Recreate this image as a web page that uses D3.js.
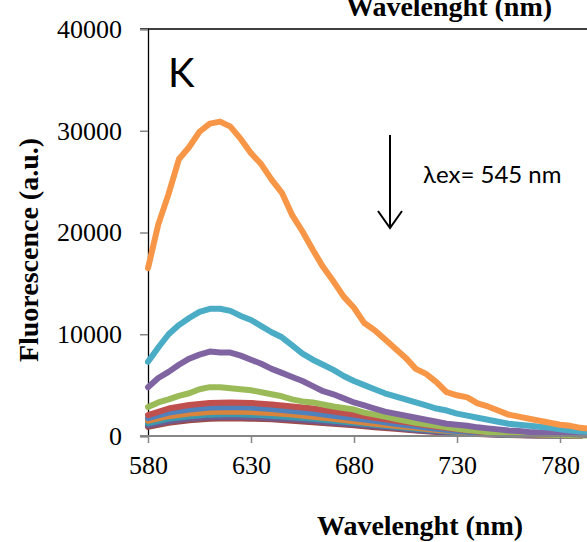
<!DOCTYPE html>
<html>
<head>
<meta charset="utf-8">
<script src="https://d3js.org/d3.v7.min.js"></script>
<style>
    body { margin: 0; background: #ffffff; }
    #chart .serif { font-family: "Liberation Serif", "Times New Roman", serif; fill: #000000; }
    #chart .sans { font-family: Lato, "Open Sans", sans-serif; fill: #000000; }
    #chart .tick-label { font-size: 26px; }
    #chart .axis-title { font-size: 28px; font-weight: bold; }
    #chart .series { fill: none; stroke-width: 6; stroke-linejoin: round; stroke-linecap: round; }
</style>
</head>
<body>
<script>
// wavelength grids (nm)
const WL_FINE = d3.range(580, 796, 5);
const WL_COARSE = d3.range(580, 791, 10);

// main spectra, read at 5 nm steps
const ORANGE = [16500, 20800, 23800, 27200, 28400, 29900, 30700, 30900, 30400, 29200,
    27800, 26700, 25200, 23900, 21700, 20100, 18300, 16600, 15200, 13700,
    12600, 11100, 10400, 9500, 8600, 7700, 6600, 6100, 5300, 4300,
    4000, 3800, 3200, 2900, 2500, 2100, 1900, 1700, 1500, 1300,
    1100, 1000, 800, 700];
const AQUA = [7300, 8700, 10000, 10900, 11600, 12200, 12500, 12500, 12300, 11800,
    11400, 10800, 10200, 9700, 8900, 8100, 7500, 7000, 6500, 5900,
    5400, 5000, 4600, 4200, 3900, 3600, 3300, 3000, 2700, 2500,
    2200, 2000, 1800, 1600, 1400, 1200, 1100, 1000, 900, 800,
    650, 550, 450, 400];
const PURPLE = [4800, 5700, 6300, 7000, 7600, 8000, 8300, 8200, 8200, 7900,
    7500, 7100, 6600, 6200, 5800, 5400, 4900, 4400, 4100, 3700,
    3300, 3000, 2700, 2400, 2200, 2000, 1800, 1600, 1400, 1200,
    1100, 1000, 850, 750, 650, 550, 500, 400, 350, 300,
    250, 200, 150, 100];
const GREEN = [2850, 3300, 3600, 3950, 4200, 4600, 4800, 4800, 4700, 4600,
    4500, 4300, 4100, 3900, 3600, 3400, 3300, 3100, 2900, 2750,
    2600, 2300, 2100, 1900, 1700, 1500, 1300, 1150, 1000, 850,
    700, 600, 500, 400, 350, 300, 250, 200, 150, 120,
    100, 80, 60, 50];

// lower spectra, read at 10 nm steps
const RED = [2050, 2700, 3050, 3250, 3300, 3250, 3100, 2900, 2700, 2400, 2100,
    1800, 1500, 1200, 900, 650, 450, 300, 200, 120, 80, 50];
const BLUE = [1750, 2300, 2600, 2800, 2850, 2800, 2650, 2450, 2250, 2000, 1750,
    1500, 1200, 950, 700, 500, 350, 250, 150, 100, 60, 40];
const ORANGE2 = [1500, 1950, 2200, 2350, 2400, 2350, 2250, 2100, 1900, 1700, 1450,
    1200, 1000, 800, 600, 450, 300, 200, 130, 80, 50, 30];
const TEAL2 = [1250, 1700, 1950, 2100, 2150, 2100, 2000, 1850, 1700, 1500, 1300,
    1100, 900, 700, 550, 400, 280, 180, 110, 70, 40, 20];
const PURPLE2 = [1050, 1450, 1700, 1850, 1900, 1850, 1750, 1650, 1500, 1300, 1150,
    950, 800, 600, 450, 330, 230, 150, 90, 50, 30, 20];
const DARKRED = [900, 1300, 1550, 1700, 1750, 1700, 1650, 1500, 1350, 1200, 1050,
    850, 700, 550, 400, 300, 200, 130, 80, 50, 30, 10];

const X_TICKS = [580, 630, 680, 730, 780];
const Y_TICKS = [0, 10000, 20000, 30000, 40000];

// drawn from the smallest up, so the big spectra sit on top
const SERIES = [
    { wl: WL_COARSE, v: DARKRED, color: "#9e4a47" },
    { wl: WL_COARSE, v: PURPLE2, color: "#6f5a8f" },
    { wl: WL_COARSE, v: TEAL2, color: "#3b98ae" },
    { wl: WL_COARSE, v: ORANGE2, color: "#d9843c" },
    { wl: WL_COARSE, v: BLUE, color: "#4f81bd" },
    { wl: WL_COARSE, v: RED, color: "#c0504d" },
    { wl: WL_FINE, v: GREEN, color: "#9bbb59" },
    { wl: WL_FINE, v: PURPLE, color: "#8064a2" },
    { wl: WL_FINE, v: AQUA, color: "#4bacc6" },
    { wl: WL_FINE, v: ORANGE, color: "#f79646" }
];

const SVG_WIDTH = 587;
const SVG_HEIGHT = 542;

var svg = d3.select("body").append("svg")
    .attr("id", "chart")
    .attr("width", SVG_WIDTH)
    .attr("height", SVG_HEIGHT);

var x = d3.scaleLinear().domain([580, 780]).range([148, 560]);
var y = d3.scaleLinear().domain([0, 40000]).range([436, 29]);

// top title, cut by the frame like in the original
svg.append("text")
    .attr("class", "serif axis-title")
    .attr("x", 449)
    .attr("y", 16)
    .attr("text-anchor", "middle")
    .text("Wavelenght (nm)");

// top border
svg.append("line")
    .attr("x1", 140).attr("x2", SVG_WIDTH)
    .attr("y1", y(40000)).attr("y2", y(40000))
    .attr("stroke", "#000").attr("stroke-width", 1.3);

// y axis
var yAxis = svg.append("g")
    .attr("transform", "translate(" + x(580) + ",0)")
    .call(d3.axisLeft(y).tickValues(Y_TICKS).tickSize(8).tickFormat(d3.format("d")));
yAxis.attr("font-size", null).attr("font-family", null);
yAxis.select(".domain").attr("stroke", "#000").attr("stroke-width", 1.3);
yAxis.selectAll(".tick line").attr("stroke", "#868686").attr("stroke-width", 1.5);
yAxis.selectAll(".tick text")
    .attr("class", "serif tick-label")
    .attr("x", -26);

var line = d3.line().x(function(d) { return x(d[0]); }).y(function(d) { return y(d[1]); });

var seriesGroup = svg.append("g");
SERIES.forEach(function(s) {
    seriesGroup.append("path")
        .datum(s.wl.map(function(w, i) { return [w, s.v[i]]; }))
        .attr("class", "series")
        .attr("stroke", s.color)
        .attr("d", line);
});

// x axis
var xAxis = svg.append("g")
    .attr("transform", "translate(0," + y(0) + ")")
    .call(d3.axisBottom(x).tickValues(X_TICKS).tickSize(7).tickSizeOuter(0));
xAxis.attr("font-size", null).attr("font-family", null);
xAxis.select(".domain").attr("d", "M140,0H" + SVG_WIDTH)
    .attr("stroke", "#868686").attr("stroke-width", 2.2);
xAxis.selectAll(".tick line").attr("stroke", "#868686").attr("stroke-width", 1.5);
xAxis.selectAll(".tick text")
    .attr("class", "serif tick-label")
    .attr("y", 20);

// axis titles
svg.append("text")
    .attr("class", "serif axis-title")
    .attr("x", 420)
    .attr("y", 535)
    .attr("text-anchor", "middle")
    .text("Wavelenght (nm)");

svg.append("text")
    .attr("class", "serif axis-title")
    .attr("transform", "translate(38,250) rotate(-90)")
    .attr("text-anchor", "middle")
    .text("Fluorescence (a.u.)");

// annotations
svg.append("text")
    .attr("class", "sans")
    .attr("x", 168)
    .attr("y", 87)
    .attr("font-size", 40)
    .text("K");

svg.append("text")
    .attr("class", "sans")
    .attr("x", 423)
    .attr("y", 183)
    .attr("font-size", 24)
    .text("λex= 545 nm");

svg.append("path")
    .attr("d", "M390,135V228M378,211L390,228L402,211")
    .attr("fill", "none")
    .attr("stroke", "#000")
    .attr("stroke-width", 2);
</script>
</body>
</html>
